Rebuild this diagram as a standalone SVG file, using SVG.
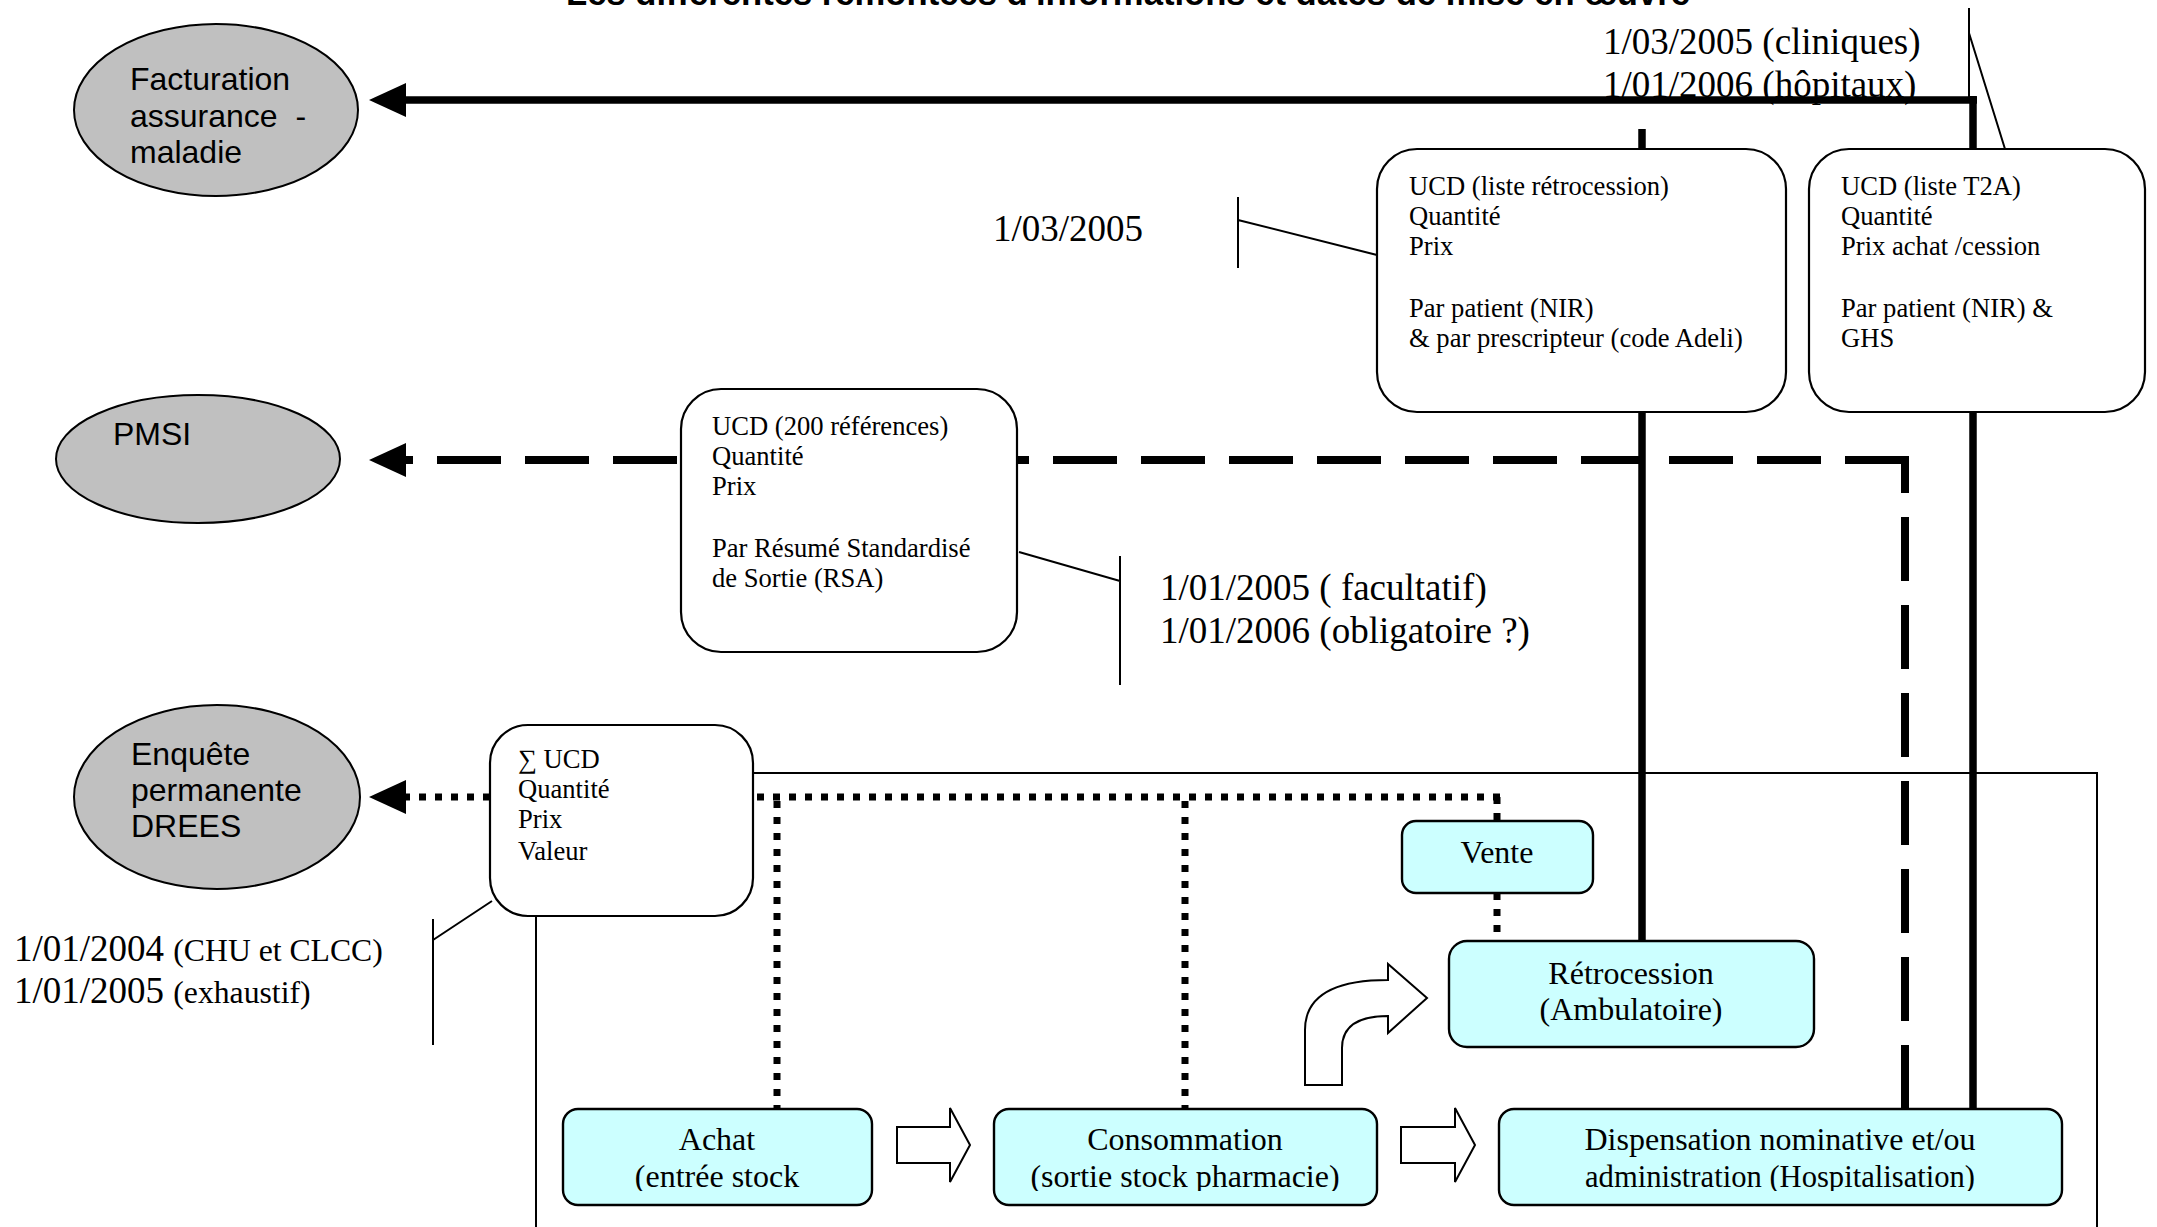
<svg xmlns="http://www.w3.org/2000/svg" width="2157" height="1227" viewBox="0 0 2157 1227">
<defs>
<style>
.sans{font-family:"Liberation Sans",Arial,sans-serif;font-size:32px;fill:#000}
.title{font-family:"Liberation Sans",Arial,sans-serif;font-size:34.6px;font-weight:bold;fill:#000}
.serif{font-family:"Liberation Serif","Times New Roman",serif;fill:#000}
.bx{font-size:26.6px}
.date{font-size:37px}
.small{font-size:31.7px}
.lbl{font-size:32px}
.mid{text-anchor:middle}
.ell{fill:#c0c0c0;stroke:#000;stroke-width:2}
.wbox{fill:#fff;stroke:#000;stroke-width:2.2}
.cbox{fill:#ccffff;stroke:#000;stroke-width:2.4}
.thin{fill:none;stroke:#000;stroke-width:2}
.solid{fill:none;stroke:#000;stroke-width:7.5}
.dash{fill:none;stroke:#000;stroke-width:8;stroke-dasharray:64 24}
.dot{fill:none;stroke:#000;stroke-width:7;stroke-dasharray:7 9}
.head{fill:#000}
.block{fill:#fff;stroke:#000;stroke-width:2;stroke-linejoin:miter}
</style>
<clipPath id="lowclip" clipPathUnits="userSpaceOnUse"><rect x="0" y="1100" width="2157" height="91"/></clipPath>
</defs>
<rect width="2157" height="1227" fill="#fff"/>
<text class="title" x="566" y="5" textLength="1124" lengthAdjust="spacingAndGlyphs">Les différentes remontées d'informations et dates de mise en œuvre</text>

<g id="dates">
<text class="serif date" x="1603" y="54">1/03/2005 (cliniques)</text>
<text class="serif date" x="1603" y="97">1/01/2006 (hôpitaux)</text>
<path class="thin" d="M1969,8 L1969,100 M1969,33 L2005,149"/>
<text class="serif date" x="993" y="241">1/03/2005</text>
<path class="thin" d="M1238,197 L1238,268 M1238,220 L1377,255"/>
<text class="serif date" x="1160" y="600">1/01/2005 ( facultatif)</text>
<text class="serif date" x="1160" y="643">1/01/2006 (obligatoire ?)</text>
<path class="thin" d="M1120,556 L1120,685 M1120,581 L1019,552"/>
<text class="serif date" x="14" y="961">1/01/2004 <tspan class="small">(CHU et CLCC)</tspan></text>
<text class="serif date" x="14" y="1003">1/01/2005 <tspan class="small">(exhaustif)</tspan></text>
<path class="thin" d="M433,919 L433,1045 M433,940 L492,901"/>
</g>

<rect class="thin" x="536" y="773" width="1561" height="480"/>

<g id="connectors">
<path class="solid" d="M1977,100 L400,100"/>
<polygon class="head" points="369,100 406,83 406,117"/>
<path class="solid" d="M1973,96 L1973,1109"/>
<path class="solid" d="M1642,129 L1642,941"/>
<path class="dash" d="M1909,460 L406,460"/>
<path class="dash" d="M1905,1109 L1905,460"/>
<polygon class="head" points="369,460 406,443 406,477"/>
<path class="dot" d="M490,797 L406,797"/>
<polygon class="head" points="369,797 406,780 406,814"/>
<path class="dot" d="M757,797 L1500,797"/>
<path class="dot" d="M1497,797 L1497,821"/>
<path class="dot" d="M777,801 L777,1109"/>
<path class="dot" d="M1185,801 L1185,1109"/>
<path class="dot" d="M1497,893 L1497,941"/>
</g>

<g id="flow-arrows">
<polygon class="block" points="897,1127 950,1127 950,1108 970,1145 950,1182 950,1163 897,1163"/>
<polygon class="block" points="1401,1127 1455,1127 1455,1108 1475,1145 1455,1182 1455,1163 1401,1163"/>
<path class="block" d="M1305,1085 L1305,1030 Q1305,980 1388,980 L1388,964 L1427,998 L1388,1033 L1388,1016 Q1342,1016 1342,1048 L1342,1085 Z"/>
</g>

<g id="facturation">
<ellipse class="ell" cx="216" cy="110" rx="142" ry="86"/>
<text class="sans" x="130" y="90">Facturation</text>
<text class="sans" x="130" y="127" xml:space="preserve">assurance  -</text>
<text class="sans" x="130" y="163">maladie</text>
</g>
<g id="pmsi">
<ellipse class="ell" cx="198" cy="459" rx="142" ry="64"/>
<text class="sans" x="113" y="445">PMSI</text>
</g>
<g id="drees">
<ellipse class="ell" cx="217" cy="797" rx="143" ry="92"/>
<text class="sans" x="131" y="765">Enquête</text>
<text class="sans" x="131" y="801">permanente</text>
<text class="sans" x="131" y="837">DREES</text>
</g>

<g id="ucd-retro">
<rect class="wbox" x="1377" y="149" width="409" height="263" rx="40"/>
<text class="serif bx" x="1409" y="195">UCD (liste rétrocession)</text>
<text class="serif bx" x="1409" y="225">Quantité</text>
<text class="serif bx" x="1409" y="255">Prix</text>
<text class="serif bx" x="1409" y="317">Par patient (NIR)</text>
<text class="serif bx" x="1409" y="347">&amp; par prescripteur (code Adeli)</text>
</g>
<g id="ucd-t2a">
<rect class="wbox" x="1809" y="149" width="336" height="263" rx="40"/>
<text class="serif bx" x="1841" y="195">UCD (liste T2A)</text>
<text class="serif bx" x="1841" y="225">Quantité</text>
<text class="serif bx" x="1841" y="255">Prix achat /cession</text>
<text class="serif bx" x="1841" y="317">Par patient (NIR) &amp;</text>
<text class="serif bx" x="1841" y="347">GHS</text>
</g>
<g id="ucd-200">
<rect class="wbox" x="681" y="389" width="336" height="263" rx="40"/>
<text class="serif bx" x="712" y="435">UCD (200 références)</text>
<text class="serif bx" x="712" y="465">Quantité</text>
<text class="serif bx" x="712" y="495">Prix</text>
<text class="serif bx" x="712" y="557">Par Résumé Standardisé</text>
<text class="serif bx" x="712" y="587">de Sortie (RSA)</text>
</g>
<g id="ucd-sum">
<rect class="wbox" x="490" y="725" width="263" height="191" rx="38"/>
<text class="serif bx" x="518" y="768">∑ UCD</text>
<text class="serif bx" x="518" y="798">Quantité</text>
<text class="serif bx" x="518" y="828">Prix</text>
<text class="serif bx" x="518" y="860">Valeur</text>
</g>

<g id="vente">
<rect class="cbox" x="1402" y="821" width="191" height="72" rx="14"/>
<text class="serif lbl mid" x="1497" y="863">Vente</text>
</g>
<g id="retrocession">
<rect class="cbox" x="1449" y="941" width="365" height="106" rx="18"/>
<text class="serif lbl mid" x="1631" y="984">Rétrocession</text>
<text class="serif lbl mid" x="1631" y="1020">(Ambulatoire)</text>
</g>
<g id="achat">
<rect class="cbox" x="563" y="1109" width="309" height="96" rx="15"/>
<g clip-path="url(#lowclip)">
<text class="serif lbl mid" x="717" y="1150">Achat</text>
<text class="serif lbl mid" x="717" y="1187">(entrée stock</text>
</g>
</g>
<g id="consommation">
<rect class="cbox" x="994" y="1109" width="383" height="96" rx="15"/>
<g clip-path="url(#lowclip)">
<text class="serif lbl mid" x="1185" y="1150">Consommation</text>
<text class="serif lbl mid" x="1185" y="1187">(sortie stock pharmacie)</text>
</g>
</g>
<g id="dispensation">
<rect class="cbox" x="1499" y="1109" width="563" height="96" rx="15"/>
<g clip-path="url(#lowclip)">
<text class="serif lbl mid" x="1780" y="1150">Dispensation nominative et/ou</text>
<text class="serif lbl mid" x="1780" y="1187" textLength="390" lengthAdjust="spacingAndGlyphs">administration (Hospitalisation)</text>
</g>
</g>
</svg>
